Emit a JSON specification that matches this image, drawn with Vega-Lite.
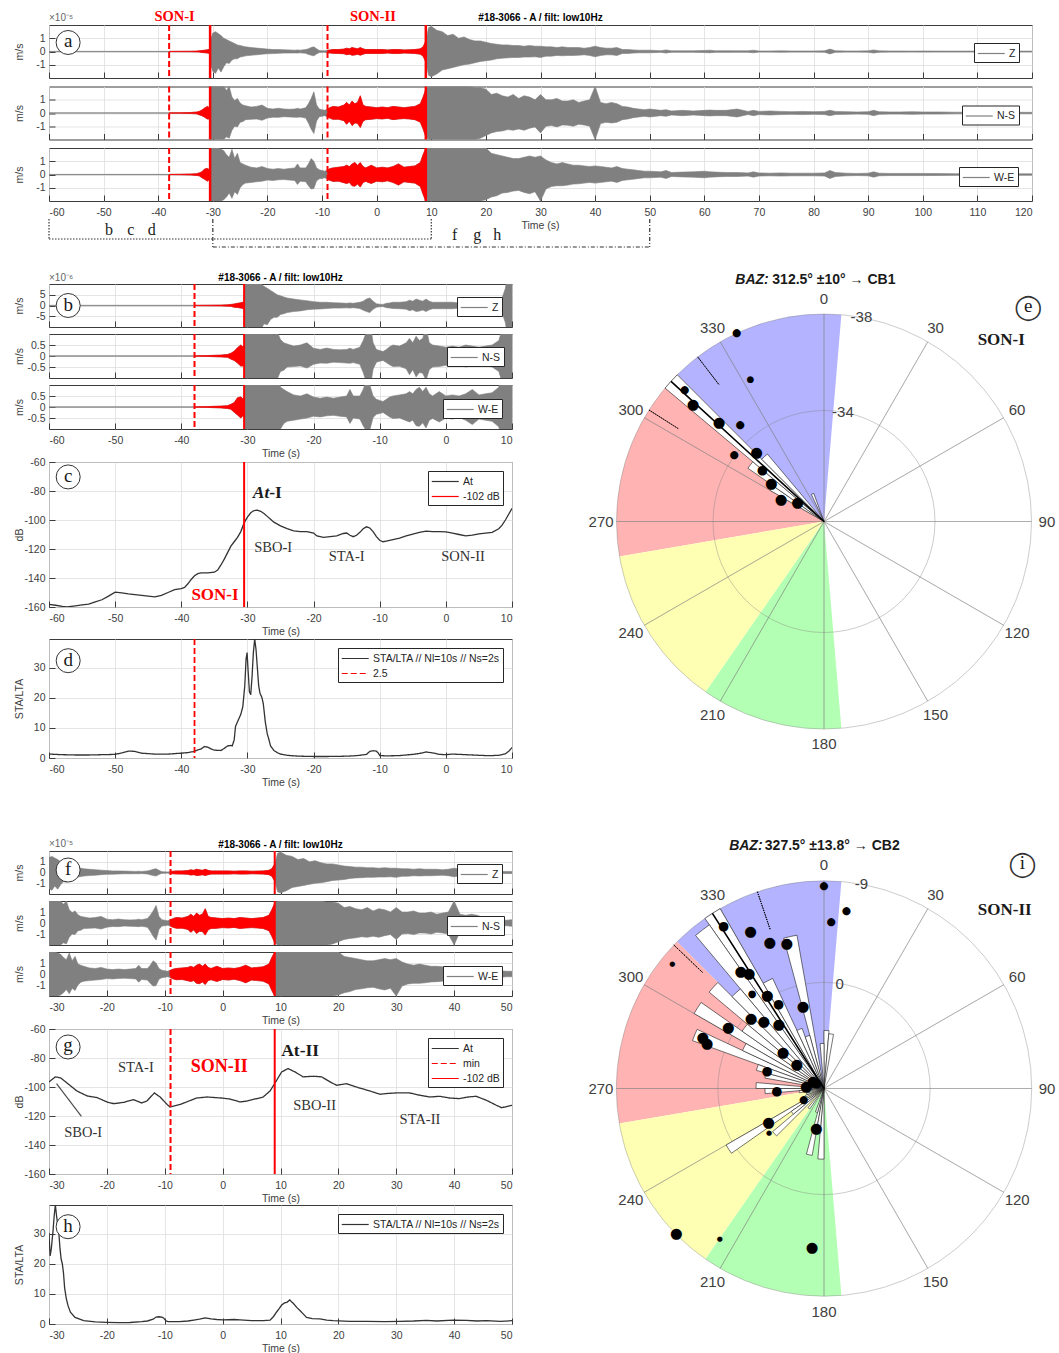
{
"$schema":"https://vega.github.io/schema/vega-lite/v6.json",
"padding":{"left":13,"top":8,"right":0,"bottom":0},
"config":{
 "font":"Liberation Sans",
 "view":{"stroke":"#3c3c3c","strokeWidth":1},
 "axis":{"domain":false,"grid":true,"gridColor":"#dedede","gridWidth":0.8,"tickColor":"#3c3c3c","tickSize":-6,"tickWidth":1,"labelOverlap":false,"labelExpr":"replace(datum.label, '\u2212', '-')","labelFont":"Liberation Sans","labelFontSize":10.5,"labelColor":"#404040","titleFont":"Liberation Sans","titleFontSize":10.5,"titleFontWeight":"normal","titleColor":"#404040"},
 "axisX":{"labelPadding":12,"titlePadding":3},
 "axisY":{"labelPadding":10,"minExtent":24,"maxExtent":24,"titlePadding":1},
 "legend":{"orient":"top-right","strokeColor":"#262626","fillColor":"#ffffff","padding":3,"labelFont":"Liberation Sans","labelFontSize":10.5,"labelColor":"#262626","symbolType":"M-1,0H3","symbolSize":182,"symbolStrokeWidth":1.2,"labelOffset":17,"rowPadding":2,"cornerRadius":0,"labelLimit":300}
},
"datasets":{
 "wave":[
  {"t":-60,"zu":0.01,"zl":-0.01,"nu":0.01,"nl":-0.01,"wu":0.01,"wl":-0.01},
  {"t":-50,"zu":0.01,"zl":-0.01,"nu":0.01,"nl":-0.01,"wu":0.01,"wl":-0.01},
  {"t":-40,"zu":0.01,"zl":-0.01,"nu":0.01,"nl":-0.01,"wu":0.01,"wl":-0.01},
  {"t":-38,"zu":0.01,"zl":-0.01,"nu":0.01,"nl":-0.01,"wu":0.01,"wl":-0.01},
  {"t":-36,"zu":0.015,"zl":-0.015,"nu":0.02,"nl":-0.02,"wu":0.02,"wl":-0.02},
  {"t":-34,"zu":0.02,"zl":-0.02,"nu":0.04,"nl":-0.04,"wu":0.04,"wl":-0.04},
  {"t":-33,"zu":0.03,"zl":-0.03,"nu":0.07,"nl":-0.06,"wu":0.06,"wl":-0.07},
  {"t":-32.5,"zu":0.05,"zl":-0.04,"nu":0.12,"nl":-0.14,"wu":0.12,"wl":-0.1},
  {"t":-32,"zu":0.07,"zl":-0.08,"nu":0.22,"nl":-0.2,"wu":0.2,"wl":-0.24},
  {"t":-31.5,"zu":0.1,"zl":-0.09,"nu":0.38,"nl":-0.32,"wu":0.42,"wl":-0.36},
  {"t":-31,"zu":0.13,"zl":-0.12,"nu":0.5,"nl":-0.46,"wu":0.46,"wl":-0.5},
  {"t":-30.7,"zu":0.15,"zl":-0.14,"nu":0.42,"nl":-0.45,"wu":0.38,"wl":-0.4},
  {"t":-30.5,"zu":0.16,"zl":-0.15,"nu":0.45,"nl":-0.4,"wu":0.4,"wl":-0.42},
  {"t":-30.4,"zu":0.9,"zl":-1.0,"nu":2,"nl":-2,"wu":2,"wl":-2},
  {"t":-30,"zu":1.4,"zl":-1.5,"nu":2,"nl":-2,"wu":2,"wl":-2},
  {"t":-29.5,"zu":1.5,"zl":-1.65,"nu":2,"nl":-2,"wu":2,"wl":-2},
  {"t":-29,"zu":1.35,"zl":-1.25,"nu":2,"nl":-2,"wu":2,"wl":-2},
  {"t":-28.5,"zu":1.2,"zl":-1.55,"nu":2,"nl":-2,"wu":1.9,"wl":-2},
  {"t":-28,"zu":1.0,"zl":-1.15,"nu":2,"nl":-2,"wu":1.8,"wl":-1.9},
  {"t":-27.5,"zu":0.9,"zl":-0.85,"nu":1.7,"nl":-1.8,"wu":1.5,"wl":-1.7},
  {"t":-27,"zu":0.8,"zl":-0.9,"nu":2,"nl":-1.9,"wu":1.3,"wl":-1.4},
  {"t":-26.5,"zu":0.7,"zl":-0.65,"nu":1.2,"nl":-1.3,"wu":1.9,"wl":-1.8},
  {"t":-26,"zu":0.6,"zl":-0.55,"nu":0.95,"nl":-1.0,"wu":1.2,"wl":-1.3},
  {"t":-25.5,"zu":0.5,"zl":-0.55,"nu":1.1,"nl":-1.05,"wu":1.6,"wl":-1.5},
  {"t":-25,"zu":0.45,"zl":-0.42,"nu":0.75,"nl":-0.7,"wu":0.9,"wl":-1.0},
  {"t":-24.5,"zu":0.4,"zl":-0.38,"nu":0.6,"nl":-0.65,"wu":0.8,"wl":-0.75},
  {"t":-24,"zu":0.35,"zl":-0.33,"nu":0.55,"nl":-0.5,"wu":0.7,"wl":-0.65},
  {"t":-23,"zu":0.3,"zl":-0.28,"nu":0.45,"nl":-0.48,"wu":0.55,"wl":-0.6},
  {"t":-22,"zu":0.26,"zl":-0.25,"nu":0.5,"nl":-0.45,"wu":0.5,"wl":-0.55},
  {"t":-21,"zu":0.22,"zl":-0.2,"nu":0.6,"nl":-0.55,"wu":0.6,"wl":-0.5},
  {"t":-20,"zu":0.18,"zl":-0.17,"nu":0.35,"nl":-0.38,"wu":0.45,"wl":-0.42},
  {"t":-19,"zu":0.15,"zl":-0.16,"nu":0.3,"nl":-0.32,"wu":0.4,"wl":-0.45},
  {"t":-18,"zu":0.15,"zl":-0.14,"nu":0.36,"nl":-0.33,"wu":0.45,"wl":-0.4},
  {"t":-17,"zu":0.13,"zl":-0.12,"nu":0.3,"nl":-0.28,"wu":0.4,"wl":-0.38},
  {"t":-16,"zu":0.12,"zl":-0.12,"nu":0.28,"nl":-0.3,"wu":0.45,"wl":-0.42},
  {"t":-15,"zu":0.1,"zl":-0.11,"nu":0.3,"nl":-0.32,"wu":0.5,"wl":-0.45},
  {"t":-14.5,"zu":0.12,"zl":-0.12,"nu":0.35,"nl":-0.33,"wu":0.8,"wl":-0.75},
  {"t":-14,"zu":0.1,"zl":-0.1,"nu":0.3,"nl":-0.3,"wu":0.5,"wl":-0.5},
  {"t":-13,"zu":0.15,"zl":-0.14,"nu":0.4,"nl":-0.38,"wu":0.5,"wl":-0.55},
  {"t":-12.5,"zu":0.2,"zl":-0.22,"nu":0.7,"nl":-0.75,"wu":0.8,"wl":-0.85},
  {"t":-12,"zu":0.3,"zl":-0.28,"nu":1.1,"nl":-1.2,"wu":1.2,"wl":-1.1},
  {"t":-11.5,"zu":0.35,"zl":-0.33,"nu":1.6,"nl":-1.55,"wu":1.0,"wl":-1.05},
  {"t":-11,"zu":0.2,"zl":-0.18,"nu":0.6,"nl":-0.6,"wu":0.5,"wl":-0.48},
  {"t":-10.5,"zu":0.08,"zl":-0.08,"nu":0.3,"nl":-0.28,"wu":0.35,"wl":-0.33},
  {"t":-10,"zu":0.06,"zl":-0.06,"nu":0.25,"nl":-0.24,"wu":0.3,"wl":-0.3},
  {"t":-9.5,"zu":0.05,"zl":-0.05,"nu":0.2,"nl":-0.2,"wu":0.25,"wl":-0.25},
  {"t":-9,"zu":0.1,"zl":-0.1,"nu":0.3,"nl":-0.3,"wu":0.35,"wl":-0.35},
  {"t":-8.5,"zu":0.12,"zl":-0.12,"nu":0.42,"nl":-0.4,"wu":0.45,"wl":-0.45},
  {"t":-8,"zu":0.15,"zl":-0.14,"nu":0.5,"nl":-0.48,"wu":0.5,"wl":-0.52},
  {"t":-7,"zu":0.15,"zl":-0.15,"nu":0.45,"nl":-0.47,"wu":0.55,"wl":-0.5},
  {"t":-6,"zu":0.18,"zl":-0.17,"nu":0.6,"nl":-0.58,"wu":0.6,"wl":-0.62},
  {"t":-5.5,"zu":0.25,"zl":-0.24,"nu":0.8,"nl":-0.85,"wu":0.7,"wl":-0.68},
  {"t":-5,"zu":0.2,"zl":-0.2,"nu":0.6,"nl":-0.62,"wu":0.6,"wl":-0.6},
  {"t":-4.5,"zu":0.3,"zl":-0.28,"nu":0.9,"nl":-0.95,"wu":0.8,"wl":-0.85},
  {"t":-4,"zu":0.25,"zl":-0.26,"nu":0.7,"nl":-0.75,"wu":0.9,"wl":-0.88},
  {"t":-3.5,"zu":0.2,"zl":-0.21,"nu":0.8,"nl":-0.78,"wu":0.7,"wl":-0.72},
  {"t":-3,"zu":0.3,"zl":-0.28,"nu":1.3,"nl":-1.1,"wu":0.9,"wl":-0.95},
  {"t":-2.5,"zu":0.2,"zl":-0.2,"nu":0.6,"nl":-0.62,"wu":0.6,"wl":-0.6},
  {"t":-2,"zu":0.15,"zl":-0.15,"nu":0.5,"nl":-0.5,"wu":0.5,"wl":-0.52},
  {"t":-1,"zu":0.15,"zl":-0.15,"nu":0.45,"nl":-0.48,"wu":0.7,"wl":-0.68},
  {"t":0,"zu":0.15,"zl":-0.15,"nu":0.4,"nl":-0.42,"wu":0.5,"wl":-0.5},
  {"t":1,"zu":0.15,"zl":-0.15,"nu":0.45,"nl":-0.45,"wu":0.55,"wl":-0.55},
  {"t":2,"zu":0.12,"zl":-0.12,"nu":0.4,"nl":-0.4,"wu":0.5,"wl":-0.48},
  {"t":3,"zu":0.15,"zl":-0.15,"nu":0.5,"nl":-0.5,"wu":0.6,"wl":-0.6},
  {"t":4,"zu":0.15,"zl":-0.15,"nu":0.45,"nl":-0.45,"wu":0.8,"wl":-0.8},
  {"t":5,"zu":0.12,"zl":-0.12,"nu":0.4,"nl":-0.42,"wu":0.55,"wl":-0.55},
  {"t":6,"zu":0.13,"zl":-0.13,"nu":0.45,"nl":-0.45,"wu":0.6,"wl":-0.6},
  {"t":7,"zu":0.15,"zl":-0.15,"nu":0.5,"nl":-0.5,"wu":0.65,"wl":-0.65},
  {"t":8,"zu":0.2,"zl":-0.2,"nu":0.7,"nl":-0.7,"wu":0.9,"wl":-0.9},
  {"t":8.5,"zu":0.35,"zl":-0.35,"nu":1.2,"nl":-1.2,"wu":1.5,"wl":-1.5},
  {"t":9,"zu":0.8,"zl":-0.8,"nu":1.8,"nl":-1.8,"wu":2,"wl":-2},
  {"t":9.5,"zu":1.8,"zl":-1.8,"nu":2,"nl":-2,"wu":2,"wl":-2},
  {"t":10,"zu":1.9,"zl":-1.9,"nu":2,"nl":-2,"wu":2,"wl":-2},
  {"t":11,"zu":1.6,"zl":-1.7,"nu":2,"nl":-2,"wu":2,"wl":-2},
  {"t":12,"zu":1.5,"zl":-1.4,"nu":2,"nl":-2,"wu":2,"wl":-2},
  {"t":13,"zu":1.2,"zl":-1.3,"nu":2,"nl":-2,"wu":2,"wl":-2},
  {"t":14,"zu":1.3,"zl":-1.2,"nu":2,"nl":-2,"wu":2,"wl":-2},
  {"t":15,"zu":1.0,"zl":-1.1,"nu":2,"nl":-2,"wu":2,"wl":-2},
  {"t":16,"zu":1.1,"zl":-1.0,"nu":2,"nl":-2,"wu":2,"wl":-2},
  {"t":17,"zu":0.9,"zl":-0.95,"nu":2,"nl":-2,"wu":2,"wl":-2},
  {"t":18,"zu":0.8,"zl":-0.85,"nu":1.9,"nl":-2,"wu":2,"wl":-2},
  {"t":19,"zu":0.8,"zl":-0.75,"nu":1.9,"nl":-1.9,"wu":2,"wl":-2},
  {"t":20,"zu":0.7,"zl":-0.7,"nu":1.8,"nl":-1.7,"wu":2,"wl":-1.9},
  {"t":21,"zu":0.6,"zl":-0.65,"nu":1.4,"nl":-1.5,"wu":1.6,"wl":-1.7},
  {"t":22,"zu":0.55,"zl":-0.55,"nu":1.5,"nl":-1.4,"wu":1.5,"wl":-1.6},
  {"t":23,"zu":0.5,"zl":-0.5,"nu":1.3,"nl":-1.35,"wu":1.4,"wl":-1.4},
  {"t":24,"zu":0.5,"zl":-0.48,"nu":1.2,"nl":-1.25,"wu":1.3,"wl":-1.35},
  {"t":25,"zu":0.45,"zl":-0.45,"nu":1.4,"nl":-1.3,"wu":1.2,"wl":-1.25},
  {"t":26,"zu":0.45,"zl":-0.45,"nu":1.1,"nl":-1.2,"wu":1.2,"wl":-1.2},
  {"t":27,"zu":0.4,"zl":-0.42,"nu":1.3,"nl":-1.3,"wu":1.3,"wl":-1.35},
  {"t":28,"zu":0.45,"zl":-0.42,"nu":1.2,"nl":-1.15,"wu":1.4,"wl":-1.45},
  {"t":29,"zu":0.4,"zl":-0.4,"nu":1.0,"nl":-1.05,"wu":1.3,"wl":-1.3},
  {"t":30,"zu":0.4,"zl":-0.45,"nu":1.4,"nl":-1.5,"wu":1.4,"wl":-2.0},
  {"t":31,"zu":0.35,"zl":-0.35,"nu":1.0,"nl":-1.0,"wu":1.1,"wl":-1.1},
  {"t":32,"zu":0.35,"zl":-0.35,"nu":1.0,"nl":-0.95,"wu":0.9,"wl":-0.9},
  {"t":33,"zu":0.3,"zl":-0.3,"nu":1.1,"nl":-1.05,"wu":0.8,"wl":-0.85},
  {"t":34,"zu":0.35,"zl":-0.32,"nu":0.9,"nl":-0.9,"wu":0.9,"wl":-0.85},
  {"t":35,"zu":0.3,"zl":-0.3,"nu":0.9,"nl":-0.92,"wu":0.8,"wl":-0.8},
  {"t":36,"zu":0.3,"zl":-0.3,"nu":1.0,"nl":-1.0,"wu":0.7,"wl":-0.72},
  {"t":37,"zu":0.3,"zl":-0.28,"nu":0.8,"nl":-0.85,"wu":0.7,"wl":-0.7},
  {"t":38,"zu":0.25,"zl":-0.25,"nu":0.9,"nl":-0.9,"wu":0.65,"wl":-0.65},
  {"t":39,"zu":0.3,"zl":-0.3,"nu":1.0,"nl":-1.0,"wu":0.6,"wl":-0.6},
  {"t":40,"zu":0.4,"zl":-0.4,"nu":2.0,"nl":-2.0,"wu":0.65,"wl":-0.65},
  {"t":41,"zu":0.3,"zl":-0.3,"nu":0.8,"nl":-0.8,"wu":0.6,"wl":-0.6},
  {"t":42,"zu":0.25,"zl":-0.25,"nu":0.7,"nl":-0.7,"wu":0.55,"wl":-0.55},
  {"t":43,"zu":0.25,"zl":-0.25,"nu":0.8,"nl":-0.75,"wu":0.5,"wl":-0.5},
  {"t":44,"zu":0.3,"zl":-0.3,"nu":0.7,"nl":-0.7,"wu":0.6,"wl":-0.6},
  {"t":45,"zu":0.15,"zl":-0.15,"nu":0.5,"nl":-0.5,"wu":0.45,"wl":-0.45},
  {"t":46,"zu":0.15,"zl":-0.15,"nu":0.45,"nl":-0.45,"wu":0.4,"wl":-0.4},
  {"t":47,"zu":0.12,"zl":-0.12,"nu":0.35,"nl":-0.35,"wu":0.35,"wl":-0.35},
  {"t":48,"zu":0.1,"zl":-0.1,"nu":0.3,"nl":-0.3,"wu":0.3,"wl":-0.3},
  {"t":49,"zu":0.1,"zl":-0.1,"nu":0.25,"nl":-0.25,"wu":0.25,"wl":-0.25},
  {"t":50,"zu":0.1,"zl":-0.1,"nu":0.3,"nl":-0.3,"wu":0.25,"wl":-0.25},
  {"t":52,"zu":0.06,"zl":-0.06,"nu":0.2,"nl":-0.2,"wu":0.2,"wl":-0.2},
  {"t":53,"zu":0.12,"zl":-0.12,"nu":0.25,"nl":-0.25,"wu":0.3,"wl":-0.3},
  {"t":54,"zu":0.05,"zl":-0.05,"nu":0.15,"nl":-0.15,"wu":0.15,"wl":-0.15},
  {"t":56,"zu":0.05,"zl":-0.05,"nu":0.2,"nl":-0.2,"wu":0.18,"wl":-0.18},
  {"t":58,"zu":0.05,"zl":-0.05,"nu":0.15,"nl":-0.15,"wu":0.2,"wl":-0.2},
  {"t":60,"zu":0.08,"zl":-0.08,"nu":0.2,"nl":-0.2,"wu":0.25,"wl":-0.25},
  {"t":61,"zu":0.1,"zl":-0.1,"nu":0.22,"nl":-0.22,"wu":0.2,"wl":-0.2},
  {"t":62,"zu":0.05,"zl":-0.05,"nu":0.2,"nl":-0.2,"wu":0.18,"wl":-0.18},
  {"t":64,"zu":0.06,"zl":-0.06,"nu":0.2,"nl":-0.2,"wu":0.15,"wl":-0.15},
  {"t":66,"zu":0.05,"zl":-0.05,"nu":0.3,"nl":-0.3,"wu":0.15,"wl":-0.15},
  {"t":68,"zu":0.05,"zl":-0.05,"nu":0.12,"nl":-0.12,"wu":0.12,"wl":-0.12},
  {"t":69,"zu":0.1,"zl":-0.1,"nu":0.2,"nl":-0.2,"wu":0.2,"wl":-0.2},
  {"t":70,"zu":0.04,"zl":-0.04,"nu":0.12,"nl":-0.12,"wu":0.12,"wl":-0.12},
  {"t":72,"zu":0.04,"zl":-0.04,"nu":0.15,"nl":-0.15,"wu":0.1,"wl":-0.1},
  {"t":74,"zu":0.05,"zl":-0.05,"nu":0.12,"nl":-0.12,"wu":0.12,"wl":-0.12},
  {"t":76,"zu":0.04,"zl":-0.04,"nu":0.1,"nl":-0.1,"wu":0.1,"wl":-0.1},
  {"t":78,"zu":0.04,"zl":-0.04,"nu":0.12,"nl":-0.12,"wu":0.1,"wl":-0.1},
  {"t":80,"zu":0.04,"zl":-0.04,"nu":0.1,"nl":-0.1,"wu":0.1,"wl":-0.1},
  {"t":82,"zu":0.05,"zl":-0.05,"nu":0.12,"nl":-0.12,"wu":0.12,"wl":-0.12},
  {"t":83,"zu":0.18,"zl":-0.18,"nu":0.2,"nl":-0.2,"wu":0.3,"wl":-0.3},
  {"t":84,"zu":0.06,"zl":-0.06,"nu":0.12,"nl":-0.12,"wu":0.15,"wl":-0.15},
  {"t":86,"zu":0.04,"zl":-0.04,"nu":0.1,"nl":-0.1,"wu":0.1,"wl":-0.1},
  {"t":88,"zu":0.04,"zl":-0.04,"nu":0.08,"nl":-0.08,"wu":0.08,"wl":-0.08},
  {"t":90,"zu":0.05,"zl":-0.05,"nu":0.1,"nl":-0.1,"wu":0.1,"wl":-0.1},
  {"t":91,"zu":0.12,"zl":-0.12,"nu":0.2,"nl":-0.2,"wu":0.2,"wl":-0.2},
  {"t":92,"zu":0.05,"zl":-0.05,"nu":0.1,"nl":-0.1,"wu":0.1,"wl":-0.1},
  {"t":94,"zu":0.04,"zl":-0.04,"nu":0.08,"nl":-0.08,"wu":0.08,"wl":-0.08},
  {"t":96,"zu":0.04,"zl":-0.04,"nu":0.08,"nl":-0.08,"wu":0.08,"wl":-0.08},
  {"t":98,"zu":0.03,"zl":-0.03,"nu":0.1,"nl":-0.1,"wu":0.08,"wl":-0.08},
  {"t":100,"zu":0.04,"zl":-0.04,"nu":0.08,"nl":-0.08,"wu":0.08,"wl":-0.08},
  {"t":103,"zu":0.03,"zl":-0.03,"nu":0.08,"nl":-0.08,"wu":0.07,"wl":-0.07},
  {"t":106,"zu":0.03,"zl":-0.03,"nu":0.06,"nl":-0.06,"wu":0.06,"wl":-0.06},
  {"t":110,"zu":0.03,"zl":-0.03,"nu":0.06,"nl":-0.06,"wu":0.06,"wl":-0.06},
  {"t":115,"zu":0.03,"zl":-0.03,"nu":0.06,"nl":-0.06,"wu":0.06,"wl":-0.06},
  {"t":120,"zu":0.03,"zl":-0.03,"nu":0.05,"nl":-0.05,"wu":0.05,"wl":-0.05}
 ],
 "atI":[
  {"t":-60,"db":-158.2},{"t":-59,"db":-158.8},{"t":-58,"db":-159.6},{"t":-57.3,"db":-160},{"t":-56,"db":-159.2},{"t":-55,"db":-158.5},{"t":-54,"db":-158},{"t":-53,"db":-156.5},{"t":-52,"db":-155},{"t":-51,"db":-152.5},{"t":-50,"db":-149.8},{"t":-49,"db":-150.3},{"t":-48,"db":-151},{"t":-47,"db":-151.5},{"t":-46,"db":-152},{"t":-45,"db":-152.5},{"t":-44,"db":-153},{"t":-43,"db":-152},{"t":-42,"db":-150},{"t":-41,"db":-148},{"t":-40,"db":-147.3},{"t":-39.5,"db":-146.5},{"t":-39,"db":-144},{"t":-38.5,"db":-141},{"t":-38,"db":-138.5},{"t":-37.5,"db":-137},{"t":-37,"db":-136.5},{"t":-36,"db":-136.5},{"t":-35,"db":-136},{"t":-34.5,"db":-134.5},{"t":-34,"db":-131},{"t":-33.5,"db":-127},{"t":-33,"db":-122.5},{"t":-32.5,"db":-118},{"t":-32,"db":-115},{"t":-31.5,"db":-112},{"t":-31,"db":-108},{"t":-30.5,"db":-102},{"t":-30,"db":-98},{"t":-29.5,"db":-95},{"t":-29,"db":-93.5},{"t":-28.5,"db":-93.2},{"t":-28,"db":-94},{"t":-27.5,"db":-95.5},{"t":-27,"db":-97.5},{"t":-26.5,"db":-99.5},{"t":-26,"db":-101.5},{"t":-25,"db":-104},{"t":-24,"db":-106},{"t":-23,"db":-107.5},{"t":-22,"db":-108},{"t":-21,"db":-108},{"t":-20,"db":-109},{"t":-19.5,"db":-111},{"t":-18.5,"db":-112},{"t":-17.5,"db":-111.5},{"t":-16.5,"db":-111},{"t":-15.5,"db":-109.3},{"t":-15,"db":-109},{"t":-14.5,"db":-110.5},{"t":-14,"db":-111.5},{"t":-13.5,"db":-110.5},{"t":-13,"db":-108.5},{"t":-12.5,"db":-106},{"t":-12,"db":-104.7},{"t":-11.5,"db":-105.5},{"t":-11,"db":-108},{"t":-10.5,"db":-111.5},{"t":-10,"db":-114},{"t":-9.5,"db":-115},{"t":-9,"db":-114.5},{"t":-8,"db":-113.5},{"t":-7,"db":-112.5},{"t":-6,"db":-111},{"t":-5,"db":-109.7},{"t":-4,"db":-108.5},{"t":-3,"db":-107.7},{"t":-2,"db":-108},{"t":-1,"db":-108},{"t":0,"db":-108.2},{"t":1,"db":-109},{"t":2,"db":-110},{"t":3,"db":-111},{"t":4,"db":-110.5},{"t":5,"db":-109.5},{"t":6,"db":-109},{"t":7,"db":-108.5},{"t":8,"db":-106},{"t":8.5,"db":-103.5},{"t":9,"db":-100},{"t":9.5,"db":-96},{"t":10,"db":-92}
 ],
 "staI":[
  {"t":-60,"r":1.3},{"t":-58,"r":1.1},{"t":-56,"r":1.0},{"t":-54,"r":1.0},{"t":-52,"r":1.1},{"t":-50,"r":1.2},{"t":-49,"r":1.7},{"t":-48,"r":2.3},{"t":-47,"r":2.2},{"t":-46,"r":1.6},{"t":-44,"r":1.3},{"t":-42,"r":1.3},{"t":-40,"r":1.6},{"t":-39,"r":1.8},{"t":-38,"r":2.2},{"t":-37.5,"r":2.7},{"t":-37,"r":3.0},{"t":-36.5,"r":3.8},{"t":-36,"r":3.6},{"t":-35.5,"r":3.0},{"t":-35,"r":2.6},{"t":-34,"r":2.5},{"t":-33.5,"r":3.2},{"t":-33,"r":4.0},{"t":-32.5,"r":4.2},{"t":-32.3,"r":4.0},{"t":-32,"r":6},{"t":-31.8,"r":10.5},{"t":-31.5,"r":12},{"t":-31.2,"r":13.5},{"t":-31,"r":14.5},{"t":-30.7,"r":17},{"t":-30.4,"r":24},{"t":-30.2,"r":33},{"t":-30.05,"r":35},{"t":-29.9,"r":29},{"t":-29.7,"r":22},{"t":-29.5,"r":21},{"t":-29.3,"r":27},{"t":-29.1,"r":35},{"t":-28.9,"r":39.5},{"t":-28.7,"r":36},{"t":-28.5,"r":30},{"t":-28.3,"r":24},{"t":-28.1,"r":21.5},{"t":-27.8,"r":20},{"t":-27.6,"r":18},{"t":-27.3,"r":12},{"t":-27,"r":8},{"t":-26.8,"r":6.5},{"t":-26.5,"r":4},{"t":-26,"r":2.5},{"t":-25.5,"r":1.8},{"t":-25,"r":1.3},{"t":-24,"r":0.9},{"t":-23,"r":0.7},{"t":-22,"r":0.6},{"t":-20,"r":0.5},{"t":-18,"r":0.5},{"t":-16,"r":0.55},{"t":-14,"r":0.7},{"t":-13,"r":0.9},{"t":-12,"r":1.2},{"t":-11.5,"r":2.2},{"t":-11,"r":2.4},{"t":-10.5,"r":2.3},{"t":-10.2,"r":1.6},{"t":-10,"r":0.8},{"t":-9,"r":0.7},{"t":-7,"r":0.8},{"t":-6,"r":1.0},{"t":-5,"r":1.2},{"t":-4,"r":1.5},{"t":-3,"r":2.0},{"t":-2,"r":1.7},{"t":-1,"r":1.2},{"t":0,"r":1.1},{"t":1,"r":1.3},{"t":2,"r":1.2},{"t":3,"r":1.1},{"t":4,"r":1.0},{"t":5,"r":0.9},{"t":6,"r":0.8},{"t":7,"r":0.8},{"t":8,"r":0.9},{"t":9,"r":1.4},{"t":9.5,"r":2.2},{"t":10,"r":3.5}
 ],
 "atII":[
  {"t":-30,"db":-96.5},{"t":-28.9,"db":-93},{"t":-28,"db":-93.7},{"t":-26.9,"db":-97.2},{"t":-25.2,"db":-102.7},{"t":-23.4,"db":-106.2},{"t":-21.7,"db":-107.3},{"t":-20,"db":-110.3},{"t":-18.8,"db":-111.5},{"t":-17.1,"db":-110.6},{"t":-15.4,"db":-108.7},{"t":-14,"db":-111},{"t":-13.1,"db":-109.7},{"t":-11.8,"db":-104.1},{"t":-10.8,"db":-106.9},{"t":-9.6,"db":-112},{"t":-9.1,"db":-113.8},{"t":-7.3,"db":-112},{"t":-4.5,"db":-107.6},{"t":-2.7,"db":-106.9},{"t":-0.2,"db":-107.6},{"t":1.3,"db":-108.3},{"t":3,"db":-110.3},{"t":4.2,"db":-109.7},{"t":5.9,"db":-108},{"t":7,"db":-106.9},{"t":8.2,"db":-102.7},{"t":9,"db":-97.6},{"t":10.2,"db":-89.6},{"t":11.3,"db":-87.3},{"t":12.5,"db":-89.6},{"t":13.9,"db":-93},{"t":15.7,"db":-92.6},{"t":17.1,"db":-93},{"t":18.8,"db":-97},{"t":19.7,"db":-98.8},{"t":21.4,"db":-97.7},{"t":23.1,"db":-100},{"t":25.4,"db":-102.7},{"t":27.2,"db":-105},{"t":28.3,"db":-104.5},{"t":30,"db":-104.1},{"t":32.3,"db":-104.1},{"t":34.1,"db":-105.7},{"t":35.8,"db":-106.9},{"t":37.5,"db":-106.4},{"t":39.2,"db":-107.6},{"t":40.9,"db":-108},{"t":42.4,"db":-106.9},{"t":43.8,"db":-106.4},{"t":45.6,"db":-109.2},{"t":47.3,"db":-112.6},{"t":48.2,"db":-114.3},{"t":50,"db":-112.6}
 ],
 "staII":[
  {"t":-30,"r":30.3},{"t":-29.9,"r":26},{"t":-29.8,"r":22.6},{"t":-29.6,"r":25},{"t":-29.3,"r":31},{"t":-29.1,"r":36},{"t":-28.9,"r":39.5},{"t":-28.7,"r":36},{"t":-28.5,"r":33},{"t":-28.3,"r":30.3},{"t":-28.1,"r":25},{"t":-27.9,"r":21.5},{"t":-27.7,"r":20},{"t":-27.5,"r":17},{"t":-27.3,"r":12},{"t":-27,"r":8.3},{"t":-26.7,"r":6},{"t":-26.3,"r":3.9},{"t":-25.5,"r":2.2},{"t":-24,"r":1.1},{"t":-22,"r":0.7},{"t":-20,"r":0.55},{"t":-18,"r":0.45},{"t":-16,"r":0.5},{"t":-14,"r":0.8},{"t":-13,"r":1.0},{"t":-12,"r":1.6},{"t":-11.5,"r":2.3},{"t":-11,"r":2.4},{"t":-10.5,"r":2.3},{"t":-10.2,"r":2.0},{"t":-9.8,"r":1.0},{"t":-9.4,"r":0.8},{"t":-7.5,"r":0.8},{"t":-6,"r":1.0},{"t":-5,"r":1.3},{"t":-4,"r":1.6},{"t":-3,"r":2.0},{"t":-2.5,"r":1.9},{"t":-2,"r":1.7},{"t":-1,"r":1.5},{"t":0,"r":1.4},{"t":2,"r":1.5},{"t":3,"r":1.4},{"t":5,"r":1.1},{"t":7,"r":1.1},{"t":8.2,"r":1.3},{"t":8.8,"r":2.5},{"t":9.3,"r":3.9},{"t":9.8,"r":5.2},{"t":10.2,"r":6.3},{"t":10.7,"r":7.0},{"t":11.1,"r":7.2},{"t":11.6,"r":8.0},{"t":11.9,"r":7.4},{"t":12.2,"r":6.9},{"t":12.8,"r":5.5},{"t":13.4,"r":4.4},{"t":14,"r":3.2},{"t":14.5,"r":2.2},{"t":15.5,"r":1.8},{"t":16.8,"r":1.7},{"t":18,"r":1.3},{"t":19.1,"r":1.1},{"t":22,"r":0.9},{"t":25,"r":0.9},{"t":28,"r":0.8},{"t":30.6,"r":0.9},{"t":33,"r":1.0},{"t":35.2,"r":1.2},{"t":37,"r":1.0},{"t":39.8,"r":1.3},{"t":42.1,"r":1.2},{"t":44,"r":1.0},{"t":45.6,"r":1.1},{"t":48,"r":0.9},{"t":50,"r":1.1}
 ],
 "sectors":[
  {"a0":315,"a1":364.8,"zone":"N"},{"a0":260.3,"a1":315,"zone":"W"},{"a0":214.8,"a1":260.3,"zone":"SW"},{"a0":175.2,"a1":214.8,"zone":"S"}
 ],
 "spokes":[{"ang":0},{"ang":30},{"ang":60},{"ang":90},{"ang":120},{"ang":150},{"ang":180},{"ang":210},{"ang":240},{"ang":270},{"ang":300},{"ang":330}],
 "barsE":[
  {"a0":300,"a1":305,"v":-31.97},{"a0":305,"a1":310,"v":-33.25},{"a0":310,"a1":315,"v":-38},{"a0":315,"a1":320,"v":-33.05},{"a0":335,"a1":340,"v":-30.64}
 ],
 "ptsE":[
  {"az":335.1,"v":-38.0,"sz":2},{"az":332.6,"v":-36.03,"sz":1.5},{"az":313.4,"v":-37.35,"sz":2},{"az":311.7,"v":-36.67,"sz":3},{"az":313.1,"v":-35.36,"sz":3},{"az":319.0,"v":-34.7,"sz":2},{"az":315.3,"v":-33.38,"sz":3},{"az":306.7,"v":-34.04,"sz":2},{"az":310.1,"v":-32.74,"sz":2.5},{"az":305.1,"v":-32.07,"sz":3},{"az":297.1,"v":-31.4,"sz":3},{"az":304.8,"v":-30.73,"sz":3}
 ],
 "barsI":[
  {"a0":325,"a1":330,"v":-9.0},{"a0":320,"a1":325,"v":-8.3},{"a0":345,"a1":350,"v":-4.39},{"a0":330,"a1":335,"v":-1.36},{"a0":310,"a1":315,"v":-3.89},{"a0":300,"a1":305,"v":-3.89},{"a0":290,"a1":295,"v":-3.0},{"a0":305,"a1":310,"v":0.54},{"a0":315,"a1":320,"v":-2.12},{"a0":335,"a1":340,"v":3.73},{"a0":340,"a1":345,"v":4.53},{"a0":0,"a1":5,"v":4.26},{"a0":5,"a1":10,"v":4.53},{"a0":355,"a1":360,"v":5.41},{"a0":280,"a1":285,"v":4.08},{"a0":285,"a1":290,"v":3.2},{"a0":295,"a1":300,"v":1.43},{"a0":270,"a1":275,"v":3.38},{"a0":265,"a1":270,"v":4.17},{"a0":260,"a1":265,"v":7.19},{"a0":235,"a1":240,"v":-0.61},{"a0":225,"a1":230,"v":3.46},{"a0":230,"a1":235,"v":5.86},{"a0":215,"a1":220,"v":7.19},{"a0":180,"a1":185,"v":3.14},{"a0":190,"a1":195,"v":3.38},{"a0":185,"a1":190,"v":5.86},{"a0":195,"a1":200,"v":7.19},{"a0":245,"a1":250,"v":7.63},{"a0":250,"a1":255,"v":7.8}
 ],
 "ptsI":[
  {"az":0,"v":-8.56,"sz":2},{"az":7.2,"v":-6.46,"sz":2},{"az":2.5,"v":-5.39,"sz":2},{"az":328.2,"v":-7.49,"sz":2.5},{"az":334.9,"v":-5.93,"sz":3},{"az":339.5,"v":-4.33,"sz":3},{"az":345.6,"v":-3.8,"sz":3},{"az":309.3,"v":-7.96,"sz":1},{"az":324.5,"v":-3.27,"sz":3},{"az":326.9,"v":-2.74,"sz":3},{"az":322.8,"v":-1.14,"sz":1.8},{"az":328.4,"v":-0.17,"sz":3},{"az":331.7,"v":0.92,"sz":2.5},{"az":345.6,"v":1.93,"sz":3},{"az":313.7,"v":0.45,"sz":3},{"az":318,"v":1.45,"sz":3},{"az":324.7,"v":2.49,"sz":3},{"az":302.1,"v":-0.61,"sz":3},{"az":292.5,"v":-2.21,"sz":3},{"az":290.8,"v":-1.67,"sz":3},{"az":310.5,"v":4.62,"sz":3},{"az":311.2,"v":6.21,"sz":3},{"az":287.2,"v":4.11,"sz":2.5},{"az":301.2,"v":8.26,"sz":3},{"az":305,"v":8.6,"sz":2.5},{"az":274.6,"v":7.82,"sz":3},{"az":266.4,"v":5.2,"sz":2.5},{"az":240.2,"v":7.33,"sz":2},{"az":238.4,"v":3.64,"sz":3},{"az":231.3,"v":3.16,"sz":1},{"az":190.9,"v":5.79,"sz":3},{"az":225.5,"v":-8.94,"sz":3},{"az":214.7,"v":-6.81,"sz":1},{"az":184.3,"v":-4.73,"sz":3}
 ]
},
"vconcat":[
 {"vconcat":[
  {"vconcat":[
   {"vconcat":[
    {"width":983,"height":53,"layer":[
     {"data":{"name":"wave"},"mark":{"type":"area","fill":"#808080","strokeWidth":0.6,"clip":true},"encoding":{
      "x":{"field":"t","type":"quantitative","scale":{"domain":[-60,120],"nice":false},"axis":{"values":[-60,-50,-40,-30,-20,-10,0,10,20,30,40,50,60,70,80,90,100,110,120],"labels":false,"title":null}},
      "y":{"field":"zu","type":"quantitative","scale":{"domain":[-2,2],"nice":false},"axis":{"values":[-1,0,1],"tickCount":10,"format":"~f","title":"m/s"}},
      "y2":{"field":"zl"},
      "stroke":{"datum":"Z","type":"nominal","scale":{"range":["#808080"]},"legend":{"title":null,"orient":"none","legendX":925,"legendY":18}}}},
     {"data":{"name":"wave"},"transform":[{"filter":{"field":"t","range":[-38,-30.5]}}],"mark":{"type":"area","fill":"#ff0000","stroke":"#ff0000","strokeWidth":0.6,"clip":true},"encoding":{"x":{"field":"t","type":"quantitative"},"y":{"field":"zu","type":"quantitative"},"y2":{"field":"zl"}}},
     {"data":{"name":"wave"},"transform":[{"filter":{"field":"t","range":[-9,9]}}],"mark":{"type":"area","fill":"#ff0000","stroke":"#ff0000","strokeWidth":0.6,"clip":true},"encoding":{"x":{"field":"t","type":"quantitative"},"y":{"field":"zu","type":"quantitative"},"y2":{"field":"zl"}}},
     {"data":{"values":[{"t":-38},{"t":-9}]},"mark":{"type":"rule","stroke":"#ff0000","strokeWidth":2,"strokeDash":[6,3]},"encoding":{"x":{"field":"t","type":"quantitative"}}},
     {"data":{"values":[{"t":-30.5},{"t":9}]},"mark":{"type":"rule","stroke":"#ff0000","strokeWidth":2.5},"encoding":{"x":{"field":"t","type":"quantitative"}}},
     {"data":{"values":[{}]},"mark":{"type":"point","shape":"circle","size":576,"filled":true,"fill":"#ffffff","stroke":"#333333","strokeWidth":1,"opacity":1},"encoding":{"x":{"datum":-56.5,"type":"quantitative"},"y":{"datum":0.68,"type":"quantitative"}}},
     {"data":{"values":[{}]},"mark":{"type":"text","text":"a","font":"Liberation Serif","fontSize":19,"color":"#1a1a1a","baseline":"middle","dy":-1},"encoding":{"x":{"datum":-56.5,"type":"quantitative"},"y":{"datum":0.68,"type":"quantitative"}}},
     {"data":{"values":[{}]},"mark":{"type":"text","text":"#18-3066 - A / filt: low10Hz","fontSize":10,"fontWeight":"bold","color":"#000000","baseline":"bottom","dy":-2},"encoding":{"x":{"datum":30,"type":"quantitative"},"y":{"datum":2,"type":"quantitative"}}},
     {"data":{"values":[{}]},"mark":{"type":"text","text":"×10⁻⁵","fontSize":10,"color":"#666666","align":"left","baseline":"bottom","dy":-2},"encoding":{"x":{"datum":-60,"type":"quantitative"},"y":{"datum":2,"type":"quantitative"}}},
     {"data":{"values":[{"t":-37,"lab":"SON-I"},{"t":-0.7,"lab":"SON-II"}]},"mark":{"type":"text","font":"Liberation Serif","fontSize":14.5,"fontWeight":"bold","color":"#ff0000","baseline":"bottom","dy":-1},"encoding":{"x":{"field":"t","type":"quantitative"},"y":{"datum":2,"type":"quantitative"},"text":{"field":"lab"}}}
    ]},
    {"width":983,"height":53,"layer":[
     {"data":{"name":"wave"},"mark":{"type":"area","fill":"#808080","strokeWidth":0.6,"clip":true},"encoding":{
      "x":{"field":"t","type":"quantitative","scale":{"domain":[-60,120],"nice":false},"axis":{"values":[-60,-50,-40,-30,-20,-10,0,10,20,30,40,50,60,70,80,90,100,110,120],"labels":false,"title":null}},
      "y":{"field":"nu","type":"quantitative","scale":{"domain":[-2,2],"nice":false},"axis":{"values":[-1,0,1],"tickCount":10,"format":"~f","title":"m/s"}},
      "y2":{"field":"nl"},
      "stroke":{"datum":"N-S","type":"nominal","scale":{"range":["#808080"]},"legend":{"title":null,"orient":"none","legendX":913,"legendY":19}}}},
     {"data":{"name":"wave"},"transform":[{"filter":{"field":"t","range":[-38,-30.5]}}],"mark":{"type":"area","fill":"#ff0000","stroke":"#ff0000","strokeWidth":0.6,"clip":true},"encoding":{"x":{"field":"t","type":"quantitative"},"y":{"field":"nu","type":"quantitative"},"y2":{"field":"nl"}}},
     {"data":{"name":"wave"},"transform":[{"filter":{"field":"t","range":[-9,9]}}],"mark":{"type":"area","fill":"#ff0000","stroke":"#ff0000","strokeWidth":0.6,"clip":true},"encoding":{"x":{"field":"t","type":"quantitative"},"y":{"field":"nu","type":"quantitative"},"y2":{"field":"nl"}}},
     {"data":{"values":[{"t":-38},{"t":-9}]},"mark":{"type":"rule","stroke":"#ff0000","strokeWidth":2,"strokeDash":[6,3]},"encoding":{"x":{"field":"t","type":"quantitative"}}},
     {"data":{"values":[{"t":-30.5},{"t":9}]},"mark":{"type":"rule","stroke":"#ff0000","strokeWidth":2.5},"encoding":{"x":{"field":"t","type":"quantitative"}}}
    ]},
    {"width":983,"height":53,"layer":[
     {"data":{"name":"wave"},"mark":{"type":"area","fill":"#808080","strokeWidth":0.6,"clip":true},"encoding":{
      "x":{"field":"t","type":"quantitative","scale":{"domain":[-60,120],"nice":false},"axis":{"values":[-60,-50,-40,-30,-20,-10,0,10,20,30,40,50,60,70,80,90,100,110,120],"title":null}},
      "y":{"field":"wu","type":"quantitative","scale":{"domain":[-2,2],"nice":false},"axis":{"values":[-1,0,1],"tickCount":10,"format":"~f","title":"m/s"}},
      "y2":{"field":"wl"},
      "stroke":{"datum":"W-E","type":"nominal","scale":{"range":["#808080"]},"legend":{"title":null,"orient":"none","legendX":910,"legendY":19}}}},
     {"data":{"name":"wave"},"transform":[{"filter":{"field":"t","range":[-38,-30.5]}}],"mark":{"type":"area","fill":"#ff0000","stroke":"#ff0000","strokeWidth":0.6,"clip":true},"encoding":{"x":{"field":"t","type":"quantitative"},"y":{"field":"wu","type":"quantitative"},"y2":{"field":"wl"}}},
     {"data":{"name":"wave"},"transform":[{"filter":{"field":"t","range":[-9,9]}}],"mark":{"type":"area","fill":"#ff0000","stroke":"#ff0000","strokeWidth":0.6,"clip":true},"encoding":{"x":{"field":"t","type":"quantitative"},"y":{"field":"wu","type":"quantitative"},"y2":{"field":"wl"}}},
     {"data":{"values":[{"t":-38},{"t":-9}]},"mark":{"type":"rule","stroke":"#ff0000","strokeWidth":2,"strokeDash":[6,3]},"encoding":{"x":{"field":"t","type":"quantitative"}}},
     {"data":{"values":[{"t":-30.5},{"t":9}]},"mark":{"type":"rule","stroke":"#ff0000","strokeWidth":2.5},"encoding":{"x":{"field":"t","type":"quantitative"}}}
    ]}
   ],"spacing":4.5,"resolve":{"scale":{"stroke":"independent","strokeDash":"independent"}}},
   {"width":983,"height":31,"view":{"stroke":null},"layer":[
    {"data":{"values":[{"t0":-60,"t1":10}]},"mark":{"type":"rule","stroke":"#333333","strokeWidth":1.2,"strokeDash":[1.5,1.5]},"encoding":{"x":{"field":"t0","type":"quantitative","scale":{"domain":[-60,120],"nice":false},"axis":null},"x2":{"field":"t1"},"y":{"datum":20,"type":"quantitative","scale":{"domain":[0,31],"reverse":true,"nice":false},"axis":null}}},
    {"data":{"values":[{"t":-60},{"t":10}]},"mark":{"type":"rule","stroke":"#333333","strokeWidth":1.2,"strokeDash":[1.5,1.5]},"encoding":{"x":{"field":"t","type":"quantitative"},"y":{"datum":0,"type":"quantitative"},"y2":{"datum":20}}},
    {"data":{"values":[{"t0":-30,"t1":50}]},"mark":{"type":"rule","stroke":"#333333","strokeWidth":1.2,"strokeDash":[4,2,1,2]},"encoding":{"x":{"field":"t0","type":"quantitative"},"x2":{"field":"t1"},"y":{"datum":28,"type":"quantitative"}}},
    {"data":{"values":[{"t":-30},{"t":50}]},"mark":{"type":"rule","stroke":"#333333","strokeWidth":1.2,"strokeDash":[4,2,1,2]},"encoding":{"x":{"field":"t","type":"quantitative"},"y":{"datum":0,"type":"quantitative"},"y2":{"datum":28}}},
    {"data":{"values":[{}]},"mark":{"type":"text","text":"Time (s)","fontSize":10.5,"color":"#404040","baseline":"middle"},"encoding":{"x":{"datum":30,"type":"quantitative"},"y":{"datum":7,"type":"quantitative"}}},
    {"data":{"values":[{"t":-49,"lab":"b"},{"t":-45,"lab":"c"},{"t":-41.2,"lab":"d"}]},"mark":{"type":"text","font":"Liberation Serif","fontSize":16,"color":"#1a1a1a","baseline":"middle"},"encoding":{"x":{"field":"t","type":"quantitative"},"y":{"datum":11,"type":"quantitative"},"text":{"field":"lab"}}},
    {"data":{"values":[{"t":14.3,"lab":"f"},{"t":18.4,"lab":"g"},{"t":22.1,"lab":"h"}]},"mark":{"type":"text","font":"Liberation Serif","fontSize":16,"color":"#1a1a1a","baseline":"middle"},"encoding":{"x":{"field":"t","type":"quantitative"},"y":{"datum":16,"type":"quantitative"},"text":{"field":"lab"}}}
   ]}
  ],"spacing":0,"resolve":{"scale":{"stroke":"independent","strokeDash":"independent"}}},
  {"hconcat":[
   {"vconcat":[
    {"vconcat":[
     {"vconcat":[
      {"width":463,"height":43,"layer":[
       {"data":{"name":"wave"},"mark":{"type":"area","fill":"#808080","strokeWidth":0.6,"clip":true},"encoding":{
        "x":{"field":"t","type":"quantitative","scale":{"domain":[-60,10],"nice":false},"axis":{"values":[-60,-50,-40,-30,-20,-10,0,10],"labels":false,"title":null}},
        "y":{"field":"zu","type":"quantitative","scale":{"domain":[-1,1],"nice":false},"axis":{"values":[-0.5,0,0.5],"tickCount":10,"title":"m/s","labelExpr":"'' + datum.value * 10"}},
        "y2":{"field":"zl"},
        "stroke":{"datum":"Z","type":"nominal","scale":{"range":["#808080"]},"legend":{"title":null,"orient":"none","legendX":408,"legendY":13}}}},
       {"data":{"name":"wave"},"transform":[{"filter":{"field":"t","range":[-38,-30.5]}}],"mark":{"type":"area","fill":"#ff0000","stroke":"#ff0000","strokeWidth":0.6,"clip":true},"encoding":{"x":{"field":"t","type":"quantitative"},"y":{"field":"zu","type":"quantitative"},"y2":{"field":"zl"}}},
       {"data":{"values":[{"t":-38}]},"mark":{"type":"rule","stroke":"#ff0000","strokeWidth":2,"strokeDash":[6,3]},"encoding":{"x":{"field":"t","type":"quantitative"}}},
       {"data":{"values":[{"t":-30.5}]},"mark":{"type":"rule","stroke":"#ff0000","strokeWidth":2},"encoding":{"x":{"field":"t","type":"quantitative"}}},
       {"data":{"values":[{}]},"mark":{"type":"point","shape":"circle","size":576,"filled":true,"fill":"#ffffff","stroke":"#333333","strokeWidth":1,"opacity":1},"encoding":{"x":{"datum":-57.1,"type":"quantitative"},"y":{"datum":0,"type":"quantitative"}}},
       {"data":{"values":[{}]},"mark":{"type":"text","text":"b","font":"Liberation Serif","fontSize":19,"color":"#1a1a1a","baseline":"middle","dy":-1},"encoding":{"x":{"datum":-57.1,"type":"quantitative"},"y":{"datum":0,"type":"quantitative"}}},
       {"data":{"values":[{}]},"mark":{"type":"text","text":"#18-3066 - A / filt: low10Hz","fontSize":10,"fontWeight":"bold","color":"#000000","baseline":"bottom","dy":-1},"encoding":{"x":{"datum":-25,"type":"quantitative"},"y":{"datum":1,"type":"quantitative"}}},
       {"data":{"values":[{}]},"mark":{"type":"text","text":"×10⁻⁶","fontSize":10,"color":"#666666","align":"left","baseline":"bottom","dy":-1},"encoding":{"x":{"datum":-60,"type":"quantitative"},"y":{"datum":1,"type":"quantitative"}}}
      ]},
      {"width":463,"height":44,"layer":[
       {"data":{"name":"wave"},"mark":{"type":"area","fill":"#808080","strokeWidth":0.6,"clip":true},"encoding":{
        "x":{"field":"t","type":"quantitative","scale":{"domain":[-60,10],"nice":false},"axis":{"values":[-60,-50,-40,-30,-20,-10,0,10],"labels":false,"title":null}},
        "y":{"field":"nu","type":"quantitative","scale":{"domain":[-1,1],"nice":false},"axis":{"values":[-0.5,0,0.5],"tickCount":10,"title":"m/s","format":".1~f"}},
        "y2":{"field":"nl"},
        "stroke":{"datum":"N-S","type":"nominal","scale":{"range":["#808080"]},"legend":{"title":null,"orient":"none","legendX":398,"legendY":13}}}},
       {"data":{"name":"wave"},"transform":[{"filter":{"field":"t","range":[-38,-30.5]}}],"mark":{"type":"area","fill":"#ff0000","stroke":"#ff0000","strokeWidth":0.6,"clip":true},"encoding":{"x":{"field":"t","type":"quantitative"},"y":{"field":"nu","type":"quantitative"},"y2":{"field":"nl"}}},
       {"data":{"values":[{"t":-38}]},"mark":{"type":"rule","stroke":"#ff0000","strokeWidth":2,"strokeDash":[6,3]},"encoding":{"x":{"field":"t","type":"quantitative"}}},
       {"data":{"values":[{"t":-30.5}]},"mark":{"type":"rule","stroke":"#ff0000","strokeWidth":2},"encoding":{"x":{"field":"t","type":"quantitative"}}}
      ]},
      {"width":463,"height":44,"layer":[
       {"data":{"name":"wave"},"mark":{"type":"area","fill":"#808080","strokeWidth":0.6,"clip":true},"encoding":{
        "x":{"field":"t","type":"quantitative","scale":{"domain":[-60,10],"nice":false},"axis":{"values":[-60,-50,-40,-30,-20,-10,0,10],"title":"Time (s)"}},
        "y":{"field":"wu","type":"quantitative","scale":{"domain":[-1,1],"nice":false},"axis":{"values":[-0.5,0,0.5],"tickCount":10,"title":"m/s","format":".1~f"}},
        "y2":{"field":"wl"},
        "stroke":{"datum":"W-E","type":"nominal","scale":{"range":["#808080"]},"legend":{"title":null,"orient":"none","legendX":394,"legendY":14}}}},
       {"data":{"name":"wave"},"transform":[{"filter":{"field":"t","range":[-38,-30.5]}}],"mark":{"type":"area","fill":"#ff0000","stroke":"#ff0000","strokeWidth":0.6,"clip":true},"encoding":{"x":{"field":"t","type":"quantitative"},"y":{"field":"wu","type":"quantitative"},"y2":{"field":"wl"}}},
       {"data":{"values":[{"t":-38}]},"mark":{"type":"rule","stroke":"#ff0000","strokeWidth":2,"strokeDash":[6,3]},"encoding":{"x":{"field":"t","type":"quantitative"}}},
       {"data":{"values":[{"t":-30.5}]},"mark":{"type":"rule","stroke":"#ff0000","strokeWidth":2},"encoding":{"x":{"field":"t","type":"quantitative"}}}
      ]}
     ],"spacing":3,"resolve":{"scale":{"stroke":"independent","strokeDash":"independent"}}},
     {"width":463,"height":145,"layer":[
      {"data":{"name":"atI"},"mark":{"type":"line","strokeWidth":1.3,"clip":true},"encoding":{
       "x":{"field":"t","type":"quantitative","scale":{"domain":[-60,10],"nice":false},"axis":{"values":[-60,-50,-40,-30,-20,-10,0,10],"title":"Time (s)"}},
       "y":{"field":"db","type":"quantitative","scale":{"domain":[-160,-60],"nice":false},"axis":{"values":[-160,-140,-120,-100,-80,-60],"tickCount":10,"title":"dB"}},
       "stroke":{"datum":"At","type":"nominal","scale":{"domain":["At","-102 dB"],"range":["#333333","#ff0000"]},"legend":{"title":null,"offset":9}}}},
      {"data":{"values":[{"t":-30.5}]},"mark":{"type":"rule","strokeWidth":2},"encoding":{"x":{"field":"t","type":"quantitative"},"stroke":{"datum":"-102 dB","type":"nominal"}}},
      {"data":{"values":[{}]},"mark":{"type":"text","text":"At","font":"Liberation Serif","fontSize":17.5,"fontWeight":"bold","fontStyle":"italic","color":"#1a1a1a","align":"right","baseline":"middle"},"encoding":{"x":{"datum":-26.7,"type":"quantitative"},"y":{"datum":-81.2,"type":"quantitative"}}},
      {"data":{"values":[{}]},"mark":{"type":"text","text":"-I","font":"Liberation Serif","fontSize":17.5,"fontWeight":"bold","color":"#1a1a1a","align":"left","baseline":"middle"},"encoding":{"x":{"datum":-26.7,"type":"quantitative"},"y":{"datum":-81.2,"type":"quantitative"}}},
      {"data":{"values":[{"t":-26.1,"db":-119.1,"lab":"SBO-I"},{"t":-15,"db":-125.7,"lab":"STA-I"},{"t":2.6,"db":-125.7,"lab":"SON-II"}]},"mark":{"type":"text","font":"Liberation Serif","fontSize":14.5,"color":"#333333","baseline":"middle"},"encoding":{"x":{"field":"t","type":"quantitative"},"y":{"field":"db","type":"quantitative"},"text":{"field":"lab"}}},
      {"data":{"values":[{}]},"mark":{"type":"text","text":"SON-I","font":"Liberation Serif","fontSize":17,"fontWeight":"bold","color":"#ff0000","baseline":"middle"},"encoding":{"x":{"datum":-34.9,"type":"quantitative"},"y":{"datum":-151.7,"type":"quantitative"}}},
      {"data":{"values":[{}]},"mark":{"type":"point","shape":"circle","size":576,"filled":true,"fill":"#ffffff","stroke":"#333333","strokeWidth":1,"opacity":1},"encoding":{"x":{"datum":-57.1,"type":"quantitative"},"y":{"datum":-70.3,"type":"quantitative"}}},
      {"data":{"values":[{}]},"mark":{"type":"text","text":"c","font":"Liberation Serif","fontSize":19,"color":"#1a1a1a","baseline":"middle","dy":-1},"encoding":{"x":{"datum":-57.1,"type":"quantitative"},"y":{"datum":-70.3,"type":"quantitative"}}}
     ]}
    ],"spacing":-4,"resolve":{"scale":{"stroke":"independent","strokeDash":"independent"}}},
    {"width":463,"height":119,"layer":[
     {"data":{"name":"staI"},"mark":{"type":"line","strokeWidth":1.3,"clip":true},"encoding":{
      "x":{"field":"t","type":"quantitative","scale":{"domain":[-60,10],"nice":false},"axis":{"values":[-60,-50,-40,-30,-20,-10,0,10],"title":"Time (s)"}},
      "y":{"field":"r","type":"quantitative","scale":{"domain":[0,39.5],"nice":false},"axis":{"values":[0,10,20,30],"tickCount":10,"title":"STA/LTA"}},
      "stroke":{"datum":"STA/LTA // Nl=10s // Ns=2s","type":"nominal","scale":{"domain":["STA/LTA // Nl=10s // Ns=2s","2.5"],"range":["#333333","#ff0000"]},"legend":{"title":null,"offset":9,"encode":{"symbols":{"update":{"strokeDash":{"signal":"datum.value === '2.5' ? [6,3] : [1,0]"}}}}}},
      "strokeDash":{"datum":"STA/LTA // Nl=10s // Ns=2s","type":"nominal","scale":{"domain":["STA/LTA // Nl=10s // Ns=2s","2.5"],"range":[[1,0],[6,3]]},"legend":null}}},
     {"data":{"values":[{"t":-38}]},"mark":{"type":"rule","strokeWidth":1.8},"encoding":{"x":{"field":"t","type":"quantitative"},"stroke":{"datum":"2.5","type":"nominal"},"strokeDash":{"datum":"2.5","type":"nominal"}}},
     {"data":{"values":[{}]},"mark":{"type":"point","shape":"circle","size":576,"filled":true,"fill":"#ffffff","stroke":"#333333","strokeWidth":1,"opacity":1},"encoding":{"x":{"datum":-57.1,"type":"quantitative"},"y":{"datum":32.3,"type":"quantitative"}}},
     {"data":{"values":[{}]},"mark":{"type":"text","text":"d","font":"Liberation Serif","fontSize":19,"color":"#1a1a1a","baseline":"middle","dy":-1},"encoding":{"x":{"datum":-57.1,"type":"quantitative"},"y":{"datum":32.3,"type":"quantitative"}}}
    ]}
   ],"spacing":-1,"resolve":{"scale":{"stroke":"independent","strokeDash":"independent"}}},
   {"width":468,"height":475,"view":{"stroke":null},"layer":[
    {"data":{"name":"sectors"},"mark":{"type":"arc","opacity":1},"encoding":{
     "theta":{"field":"a0","type":"quantitative","stack":null,"scale":{"domain":[0,360],"range":[0,6.283185307179586]}},
     "theta2":{"field":"a1"},
     "radius":{"datum":-38,"type":"quantitative","scale":{"type":"linear","domain":[-38,-29.4],"range":[207.5,0],"zero":false,"nice":false}},
     "radius2":{"datum":-29.4},
     "fill":{"field":"zone","type":"nominal","scale":{"domain":["N","W","SW","S"],"range":["#b3b3ff","#ffb3b3","#ffffb3","#b3ffb3"]},"legend":null}}},
    {"data":{"values":[{"lev":-34},{"lev":-38}]},"mark":{"type":"arc","filled":false,"stroke":"#808080","strokeOpacity":0.45,"strokeWidth":0.9},"encoding":{"theta":{"datum":0,"type":"quantitative"},"theta2":{"datum":360},"radius":{"field":"lev","type":"quantitative"},"radius2":{"datum":-29.4}}},
    {"data":{"name":"spokes"},"mark":{"type":"arc","filled":false,"stroke":"#808080","strokeOpacity":0.45,"strokeWidth":0.9},"encoding":{"theta":{"field":"ang","type":"quantitative","stack":null},"theta2":{"field":"ang"},"radius":{"datum":-38,"type":"quantitative"},"radius2":{"datum":-29.4}}},
    {"data":{"name":"barsE"},"mark":{"type":"arc","fill":"#ffffff","stroke":"#1a1a1a","strokeWidth":0.6},"encoding":{"theta":{"field":"a0","type":"quantitative","stack":null},"theta2":{"field":"a1"},"radius":{"field":"v","type":"quantitative"},"radius2":{"datum":-29.4}}},
    {"data":{"values":[{"az":312.5}]},"mark":{"type":"arc","filled":false,"stroke":"#000000","strokeWidth":1.6},"encoding":{"theta":{"field":"az","type":"quantitative","stack":null},"theta2":{"field":"az"},"radius":{"datum":-38,"type":"quantitative"},"radius2":{"datum":-29.4}}},
    {"data":{"values":[{"az":302.5},{"az":322.5}]},"mark":{"type":"arc","filled":false,"stroke":"#000000","strokeWidth":1,"strokeDash":[1.2,1.2]},"encoding":{"theta":{"field":"az","type":"quantitative","stack":null},"theta2":{"field":"az"},"radius":{"datum":-38,"type":"quantitative"},"radius2":{"datum":-36.55}}},
    {"data":{"name":"ptsE"},"mark":{"type":"text","text":"●","font":"DejaVu Sans","color":"#000000","baseline":"middle"},"encoding":{"theta":{"field":"az","type":"quantitative","stack":null},"radius":{"field":"v","type":"quantitative"},"size":{"field":"sz","type":"quantitative","scale":{"domain":[1,3],"range":[7,14.5],"zero":false},"legend":null}}},
    {"data":{"name":"spokes"},"mark":{"type":"text","fontSize":15,"color":"#404040","baseline":"middle"},"encoding":{"theta":{"field":"ang","type":"quantitative","stack":null},"radius":{"datum":-38.64,"type":"quantitative"},"text":{"field":"ang","type":"quantitative"}}},
    {"data":{"values":[{"v":-38,"ang":10.4,"lab":"-38"},{"v":-34,"ang":9.8,"lab":"-34"}]},"mark":{"type":"text","fontSize":15,"color":"#404040","baseline":"middle"},"encoding":{"theta":{"field":"ang","type":"quantitative","stack":null},"radius":{"field":"v","type":"quantitative"},"text":{"field":"lab"}}},
    {"data":{"values":[{}]},"mark":{"type":"text","text":"BAZ:","fontSize":14,"fontWeight":"bold","fontStyle":"italic","color":"#1a1a1a","align":"right","baseline":"middle"},"encoding":{"theta":{"datum":347.1,"type":"quantitative"},"radius":{"datum":-39.65,"type":"quantitative"}}},
    {"data":{"values":[{}]},"mark":{"type":"text","text":"312.5° ±10° → CB1","fontSize":14,"fontWeight":"bold","color":"#1a1a1a","align":"left","baseline":"middle"},"encoding":{"theta":{"datum":347.9,"type":"quantitative"},"radius":{"datum":-39.62,"type":"quantitative"}}},
    {"data":{"values":[{}]},"mark":{"type":"text","text":"◯","font":"DejaVu Sans","fontSize":25,"color":"#333333","baseline":"middle"},"encoding":{"theta":{"datum":43.6,"type":"quantitative"},"radius":{"datum":-41.67,"type":"quantitative"}}},
    {"data":{"values":[{}]},"mark":{"type":"text","text":"e","font":"Liberation Serif","fontSize":19,"color":"#1a1a1a","baseline":"middle","dy":-1},"encoding":{"theta":{"datum":43.6,"type":"quantitative"},"radius":{"datum":-41.67,"type":"quantitative"}}},
    {"data":{"values":[{}]},"mark":{"type":"text","text":"SON-I","font":"Liberation Serif","fontSize":17,"fontWeight":"bold","color":"#1a1a1a","baseline":"middle"},"encoding":{"theta":{"datum":44.4,"type":"quantitative"},"radius":{"datum":-39.9,"type":"quantitative"}}}
   ]}
  ],"spacing":75,"resolve":{"scale":{"stroke":"independent","strokeDash":"independent"}}}
 ],"spacing":22,"resolve":{"scale":{"stroke":"independent","strokeDash":"independent"}}},
 {"hconcat":[
  {"vconcat":[
   {"vconcat":[
    {"vconcat":[
     {"width":463,"height":43,"layer":[
      {"data":{"name":"wave"},"mark":{"type":"area","fill":"#808080","strokeWidth":0.6,"clip":true},"encoding":{
       "x":{"field":"t","type":"quantitative","scale":{"domain":[-30,50],"nice":false},"axis":{"values":[-30,-20,-10,0,10,20,30,40,50],"labels":false,"title":null}},
       "y":{"field":"zu","type":"quantitative","scale":{"domain":[-2,2],"nice":false},"axis":{"values":[-1,0,1],"tickCount":10,"format":"~f","title":"m/s"}},
       "y2":{"field":"zl"},
       "stroke":{"datum":"Z","type":"nominal","scale":{"range":["#808080"]},"legend":{"title":null,"orient":"none","legendX":408,"legendY":13}}}},
      {"data":{"name":"wave"},"transform":[{"filter":{"field":"t","range":[-9,9]}}],"mark":{"type":"area","fill":"#ff0000","stroke":"#ff0000","strokeWidth":0.6,"clip":true},"encoding":{"x":{"field":"t","type":"quantitative"},"y":{"field":"zu","type":"quantitative"},"y2":{"field":"zl"}}},
      {"data":{"values":[{"t":-9}]},"mark":{"type":"rule","stroke":"#ff0000","strokeWidth":2,"strokeDash":[6,3]},"encoding":{"x":{"field":"t","type":"quantitative"}}},
      {"data":{"values":[{"t":9}]},"mark":{"type":"rule","stroke":"#ff0000","strokeWidth":2},"encoding":{"x":{"field":"t","type":"quantitative"}}},
      {"data":{"values":[{}]},"mark":{"type":"point","shape":"circle","size":576,"filled":true,"fill":"#ffffff","stroke":"#333333","strokeWidth":1,"opacity":1},"encoding":{"x":{"datum":-26.7,"type":"quantitative"},"y":{"datum":0.23,"type":"quantitative"}}},
      {"data":{"values":[{}]},"mark":{"type":"text","text":"f","font":"Liberation Serif","fontSize":19,"color":"#1a1a1a","baseline":"middle","dy":-1},"encoding":{"x":{"datum":-26.7,"type":"quantitative"},"y":{"datum":0.23,"type":"quantitative"}}},
      {"data":{"values":[{}]},"mark":{"type":"text","text":"#18-3066 - A / filt: low10Hz","fontSize":10,"fontWeight":"bold","color":"#000000","baseline":"bottom","dy":-1},"encoding":{"x":{"datum":10,"type":"quantitative"},"y":{"datum":2,"type":"quantitative"}}},
      {"data":{"values":[{}]},"mark":{"type":"text","text":"×10⁻⁵","fontSize":10,"color":"#666666","align":"left","baseline":"bottom","dy":-2},"encoding":{"x":{"datum":-30,"type":"quantitative"},"y":{"datum":2,"type":"quantitative"}}}
     ]},
     {"width":463,"height":44,"layer":[
      {"data":{"name":"wave"},"mark":{"type":"area","fill":"#808080","strokeWidth":0.6,"clip":true},"encoding":{
       "x":{"field":"t","type":"quantitative","scale":{"domain":[-30,50],"nice":false},"axis":{"values":[-30,-20,-10,0,10,20,30,40,50],"labels":false,"title":null}},
       "y":{"field":"nu","type":"quantitative","scale":{"domain":[-2,2],"nice":false},"axis":{"values":[-1,0,1],"tickCount":10,"format":"~f","title":"m/s"}},
       "y2":{"field":"nl"},
       "stroke":{"datum":"N-S","type":"nominal","scale":{"range":["#808080"]},"legend":{"title":null,"orient":"none","legendX":398,"legendY":15}}}},
      {"data":{"name":"wave"},"transform":[{"filter":{"field":"t","range":[-9,9]}}],"mark":{"type":"area","fill":"#ff0000","stroke":"#ff0000","strokeWidth":0.6,"clip":true},"encoding":{"x":{"field":"t","type":"quantitative"},"y":{"field":"nu","type":"quantitative"},"y2":{"field":"nl"}}},
      {"data":{"values":[{"t":-9}]},"mark":{"type":"rule","stroke":"#ff0000","strokeWidth":2,"strokeDash":[6,3]},"encoding":{"x":{"field":"t","type":"quantitative"}}},
      {"data":{"values":[{"t":9}]},"mark":{"type":"rule","stroke":"#ff0000","strokeWidth":2},"encoding":{"x":{"field":"t","type":"quantitative"}}}
     ]},
     {"width":463,"height":44,"layer":[
      {"data":{"name":"wave"},"mark":{"type":"area","fill":"#808080","strokeWidth":0.6,"clip":true},"encoding":{
       "x":{"field":"t","type":"quantitative","scale":{"domain":[-30,50],"nice":false},"axis":{"values":[-30,-20,-10,0,10,20,30,40,50],"title":"Time (s)"}},
       "y":{"field":"wu","type":"quantitative","scale":{"domain":[-2,2],"nice":false},"axis":{"values":[-1,0,1],"tickCount":10,"format":"~f","title":"m/s"}},
       "y2":{"field":"wl"},
       "stroke":{"datum":"W-E","type":"nominal","scale":{"range":["#808080"]},"legend":{"title":null,"orient":"none","legendX":394,"legendY":14}}}},
      {"data":{"name":"wave"},"transform":[{"filter":{"field":"t","range":[-9,9]}}],"mark":{"type":"area","fill":"#ff0000","stroke":"#ff0000","strokeWidth":0.6,"clip":true},"encoding":{"x":{"field":"t","type":"quantitative"},"y":{"field":"wu","type":"quantitative"},"y2":{"field":"wl"}}},
      {"data":{"values":[{"t":-9}]},"mark":{"type":"rule","stroke":"#ff0000","strokeWidth":2,"strokeDash":[6,3]},"encoding":{"x":{"field":"t","type":"quantitative"}}},
      {"data":{"values":[{"t":9}]},"mark":{"type":"rule","stroke":"#ff0000","strokeWidth":2},"encoding":{"x":{"field":"t","type":"quantitative"}}}
     ]}
    ],"spacing":3,"resolve":{"scale":{"stroke":"independent","strokeDash":"independent"}}},
    {"width":463,"height":145,"layer":[
     {"data":{"name":"atII"},"mark":{"type":"line","strokeWidth":1.3,"clip":true},"encoding":{
      "x":{"field":"t","type":"quantitative","scale":{"domain":[-30,50],"nice":false},"axis":{"values":[-30,-20,-10,0,10,20,30,40,50],"title":"Time (s)"}},
      "y":{"field":"db","type":"quantitative","scale":{"domain":[-160,-60],"nice":false},"axis":{"values":[-160,-140,-120,-100,-80,-60],"tickCount":10,"title":"dB"}},
      "stroke":{"datum":"At","type":"nominal","scale":{"domain":["At","min","-102 dB"],"range":["#333333","#ff0000","#ff0000"]},"legend":{"title":null,"offset":9,"encode":{"symbols":{"update":{"strokeDash":{"signal":"datum.value === 'min' ? [6,3] : [1,0]"}}}}}},
      "strokeDash":{"datum":"At","type":"nominal","scale":{"domain":["At","min","-102 dB"],"range":[[1,0],[6,3],[1,0]]},"legend":null}}},
     {"data":{"values":[{"t":-9}]},"mark":{"type":"rule","strokeWidth":2},"encoding":{"x":{"field":"t","type":"quantitative"},"stroke":{"datum":"min","type":"nominal"},"strokeDash":{"datum":"min","type":"nominal"}}},
     {"data":{"values":[{"t":9}]},"mark":{"type":"rule","strokeWidth":2},"encoding":{"x":{"field":"t","type":"quantitative"},"stroke":{"datum":"-102 dB","type":"nominal"},"strokeDash":{"datum":"-102 dB","type":"nominal"}}},
     {"data":{"values":[{"t1":-28.7,"d1":-97.7,"t2":-24.4,"d2":-120.2}]},"mark":{"type":"rule","stroke":"#4d4d4d","strokeWidth":1.2},"encoding":{"x":{"field":"t1","type":"quantitative"},"y":{"field":"d1","type":"quantitative"},"x2":{"field":"t2"},"y2":{"field":"d2"}}},
     {"data":{"values":[{"t":-15,"db":-86.7,"lab":"STA-I"},{"t":15.9,"db":-113.3,"lab":"SBO-II"},{"t":34.1,"db":-122.5,"lab":"STA-II"},{"t":-24.1,"db":-131.7,"lab":"SBO-I"}]},"mark":{"type":"text","font":"Liberation Serif","fontSize":14.5,"color":"#333333","baseline":"middle"},"encoding":{"x":{"field":"t","type":"quantitative"},"y":{"field":"db","type":"quantitative"},"text":{"field":"lab"}}},
     {"data":{"values":[{}]},"mark":{"type":"text","text":"SON-II","font":"Liberation Serif","fontSize":18,"fontWeight":"bold","color":"#ff0000","baseline":"middle"},"encoding":{"x":{"datum":-0.6,"type":"quantitative"},"y":{"datum":-86.2,"type":"quantitative"}}},
     {"data":{"values":[{}]},"mark":{"type":"text","text":"At-II","font":"Liberation Serif","fontSize":17.5,"fontWeight":"bold","color":"#1a1a1a","baseline":"middle"},"encoding":{"x":{"datum":13.4,"type":"quantitative"},"y":{"datum":-75.4,"type":"quantitative"}}},
     {"data":{"values":[{}]},"mark":{"type":"point","shape":"circle","size":576,"filled":true,"fill":"#ffffff","stroke":"#333333","strokeWidth":1,"opacity":1},"encoding":{"x":{"datum":-26.7,"type":"quantitative"},"y":{"datum":-72.4,"type":"quantitative"}}},
     {"data":{"values":[{}]},"mark":{"type":"text","text":"g","font":"Liberation Serif","fontSize":19,"color":"#1a1a1a","baseline":"middle","dy":-2},"encoding":{"x":{"datum":-26.7,"type":"quantitative"},"y":{"datum":-72.4,"type":"quantitative"}}}
    ]}
   ],"spacing":-4,"resolve":{"scale":{"stroke":"independent","strokeDash":"independent"}}},
   {"width":463,"height":119,"layer":[
    {"data":{"name":"staII"},"mark":{"type":"line","strokeWidth":1.3,"clip":true},"encoding":{
     "x":{"field":"t","type":"quantitative","scale":{"domain":[-30,50],"nice":false},"axis":{"values":[-30,-20,-10,0,10,20,30,40,50],"title":"Time (s)"}},
     "y":{"field":"r","type":"quantitative","scale":{"domain":[0,39.5],"nice":false},"axis":{"values":[0,10,20,30],"tickCount":10,"title":"STA/LTA"}},
     "stroke":{"datum":"STA/LTA // Nl=10s // Ns=2s","type":"nominal","scale":{"range":["#333333"]},"legend":{"title":null,"offset":9}}}},
    {"data":{"values":[{}]},"mark":{"type":"point","shape":"circle","size":576,"filled":true,"fill":"#ffffff","stroke":"#333333","strokeWidth":1,"opacity":1},"encoding":{"x":{"datum":-26.7,"type":"quantitative"},"y":{"datum":32.3,"type":"quantitative"}}},
    {"data":{"values":[{}]},"mark":{"type":"text","text":"h","font":"Liberation Serif","fontSize":19,"color":"#1a1a1a","baseline":"middle","dy":-1},"encoding":{"x":{"datum":-26.7,"type":"quantitative"},"y":{"datum":32.3,"type":"quantitative"}}}
   ]}
  ],"spacing":-1,"resolve":{"scale":{"stroke":"independent","strokeDash":"independent"}}},
  {"width":468,"height":475,"view":{"stroke":null},"layer":[
   {"data":{"name":"sectors"},"mark":{"type":"arc","opacity":1},"encoding":{
    "theta":{"field":"a0","type":"quantitative","stack":null,"scale":{"domain":[0,360],"range":[0,6.283185307179586]}},
    "theta2":{"field":"a1"},
    "radius":{"datum":-9,"type":"quantitative","scale":{"type":"linear","domain":[-9,9.4],"range":[207.7,0],"zero":false,"nice":false}},
    "radius2":{"datum":9.4},
    "fill":{"field":"zone","type":"nominal","scale":{"domain":["N","W","SW","S"],"range":["#b3b3ff","#ffb3b3","#ffffb3","#b3ffb3"]},"legend":null}}},
   {"data":{"values":[{"lev":0},{"lev":-9}]},"mark":{"type":"arc","filled":false,"stroke":"#808080","strokeOpacity":0.45,"strokeWidth":0.9},"encoding":{"theta":{"datum":0,"type":"quantitative"},"theta2":{"datum":360},"radius":{"field":"lev","type":"quantitative"},"radius2":{"datum":9.4}}},
   {"data":{"name":"spokes"},"mark":{"type":"arc","filled":false,"stroke":"#808080","strokeOpacity":0.45,"strokeWidth":0.9},"encoding":{"theta":{"field":"ang","type":"quantitative","stack":null},"theta2":{"field":"ang"},"radius":{"datum":-9,"type":"quantitative"},"radius2":{"datum":9.4}}},
   {"data":{"name":"barsI"},"mark":{"type":"arc","fill":"#ffffff","stroke":"#1a1a1a","strokeWidth":0.6},"encoding":{"theta":{"field":"a0","type":"quantitative","stack":null},"theta2":{"field":"a1"},"radius":{"field":"v","type":"quantitative"},"radius2":{"datum":9.4}}},
   {"data":{"values":[{"az":327.5}]},"mark":{"type":"arc","filled":false,"stroke":"#000000","strokeWidth":1.6},"encoding":{"theta":{"field":"az","type":"quantitative","stack":null},"theta2":{"field":"az"},"radius":{"datum":-9,"type":"quantitative"},"radius2":{"datum":9.4}}},
   {"data":{"values":[{"az":313.7},{"az":341.3}]},"mark":{"type":"arc","filled":false,"stroke":"#000000","strokeWidth":1,"strokeDash":[1.2,1.2]},"encoding":{"theta":{"field":"az","type":"quantitative","stack":null},"theta2":{"field":"az"},"radius":{"datum":-9,"type":"quantitative"},"radius2":{"datum":-5.45}}},
   {"data":{"name":"ptsI"},"mark":{"type":"text","text":"●","font":"DejaVu Sans","color":"#000000","baseline":"middle"},"encoding":{"theta":{"field":"az","type":"quantitative","stack":null},"radius":{"field":"v","type":"quantitative"},"size":{"field":"sz","type":"quantitative","scale":{"domain":[1,3],"range":[7,14.5],"zero":false},"legend":null}}},
   {"data":{"name":"spokes"},"mark":{"type":"text","fontSize":15,"color":"#404040","baseline":"middle"},"encoding":{"theta":{"field":"ang","type":"quantitative","stack":null},"radius":{"datum":-10.36,"type":"quantitative"},"text":{"field":"ang","type":"quantitative"}}},
   {"data":{"values":[{"v":-9,"ang":10.4,"lab":"-9"},{"v":0,"ang":8.5,"lab":"0"}]},"mark":{"type":"text","fontSize":15,"color":"#404040","baseline":"middle"},"encoding":{"theta":{"field":"ang","type":"quantitative","stack":null},"radius":{"field":"v","type":"quantitative"},"text":{"field":"lab"}}},
   {"data":{"values":[{}]},"mark":{"type":"text","text":"BAZ:","fontSize":14,"fontWeight":"bold","fontStyle":"italic","color":"#1a1a1a","align":"right","baseline":"middle"},"encoding":{"theta":{"datum":345.8,"type":"quantitative"},"radius":{"datum":-12.78,"type":"quantitative"}}},
   {"data":{"values":[{}]},"mark":{"type":"text","text":"327.5° ±13.8° → CB2","fontSize":14,"fontWeight":"bold","color":"#1a1a1a","align":"left","baseline":"middle"},"encoding":{"theta":{"datum":346.3,"type":"quantitative"},"radius":{"datum":-12.73,"type":"quantitative"}}},
   {"data":{"values":[{}]},"mark":{"type":"text","text":"◯","font":"DejaVu Sans","fontSize":25,"color":"#333333","baseline":"middle"},"encoding":{"theta":{"datum":41.5,"type":"quantitative"},"radius":{"datum":-17.13,"type":"quantitative"}}},
   {"data":{"values":[{}]},"mark":{"type":"text","text":"i","font":"Liberation Serif","fontSize":19,"color":"#1a1a1a","baseline":"middle","dy":-1},"encoding":{"theta":{"datum":41.5,"type":"quantitative"},"radius":{"datum":-17.13,"type":"quantitative"}}},
   {"data":{"values":[{}]},"mark":{"type":"text","text":"SON-II","font":"Liberation Serif","fontSize":17,"fontWeight":"bold","color":"#1a1a1a","baseline":"middle"},"encoding":{"theta":{"datum":45.4,"type":"quantitative"},"radius":{"datum":-13.09,"type":"quantitative"}}}
  ]}
 ],"spacing":75,"resolve":{"scale":{"stroke":"independent","strokeDash":"independent"}}}
],
"spacing":49,
"resolve":{"scale":{"stroke":"independent","strokeDash":"independent"}}
}
